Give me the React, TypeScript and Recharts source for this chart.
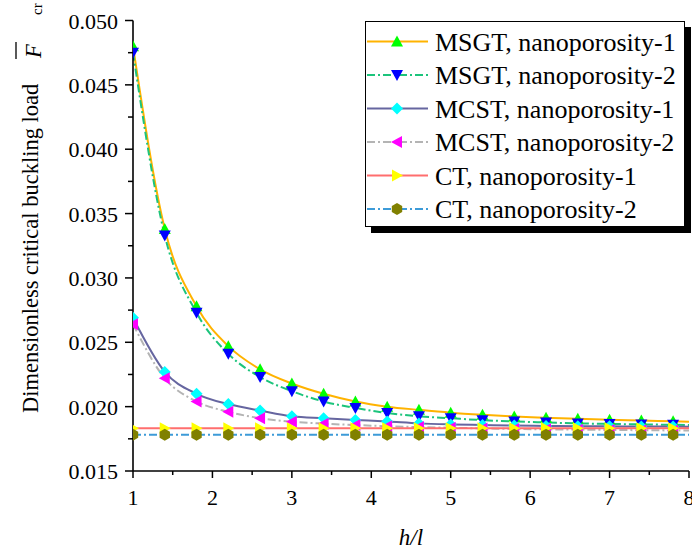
import React from "react";
import { LineChart, Line, XAxis, YAxis, Legend } from "recharts";

const FONT = "'Liberation Serif', 'Times New Roman', serif";

// h/l values where the markers sit (last point only carries the line to the edge)
const hl = [1, 1.4, 1.8, 2.2, 2.6, 3, 3.4, 3.8, 4.2, 4.6, 5, 5.4, 5.8, 6.2, 6.6, 7, 7.4, 7.8, 8];

const msgt1 = [0.048, 0.0338, 0.0278, 0.0247, 0.0229, 0.0218, 0.021, 0.0204, 0.02, 0.01975, 0.01953, 0.01937, 0.01924, 0.01914, 0.01905, 0.01898, 0.01892, 0.01886, 0.01883];
const msgt2 = [0.0475, 0.0333, 0.0273, 0.0241, 0.0223, 0.0212, 0.0204, 0.0199, 0.0195, 0.01925, 0.0191, 0.01895, 0.01885, 0.01877, 0.0187, 0.01866, 0.01862, 0.01859, 0.01857];
const mcst1 = [0.0269, 0.0227, 0.021, 0.0202, 0.0197, 0.01925, 0.0191, 0.01897, 0.01885, 0.0187, 0.01862, 0.01857, 0.01853, 0.0185, 0.01848, 0.01847, 0.01846, 0.01845, 0.01844];
const mcst2 = [0.0264, 0.0222, 0.0204, 0.0196, 0.0191, 0.01883, 0.01868, 0.01857, 0.01848, 0.01841, 0.01836, 0.01831, 0.01827, 0.01824, 0.01821, 0.01819, 0.01817, 0.01815, 0.01814];
const ct1 = [0.01832, 0.01832, 0.01832, 0.01832, 0.01832, 0.01832, 0.01832, 0.01832, 0.01832, 0.01832, 0.01832, 0.01832, 0.01832, 0.01832, 0.01832, 0.01832, 0.01832, 0.01832, 0.01832];
const ct2 = [0.01782, 0.01782, 0.01782, 0.01782, 0.01782, 0.01782, 0.01782, 0.01782, 0.01782, 0.01782, 0.01782, 0.01782, 0.01782, 0.01782, 0.01782, 0.01782, 0.01782, 0.01782, 0.01782];

const xTicks = [1, 1.5, 2, 2.5, 3, 3.5, 4, 4.5, 5, 5.5, 6, 6.5, 7, 7.5, 8];
const yTicks = [0.015, 0.0175, 0.02, 0.0225, 0.025, 0.0275, 0.03, 0.0325, 0.035, 0.0375, 0.04, 0.0425, 0.045, 0.0475, 0.05];
const topTicks = [1, 1.7, 2.4, 3.1, 3.8, 4.5, 5.2, 5.9, 6.6, 7.3, 8];
const rightTicks = [0.015, 0.022, 0.029, 0.036, 0.043, 0.05];

const SERIES = [
  { key: "msgt1", name: "MSGT, nanoporosity-1", values: msgt1, stroke: "#ffb300", dash: undefined, shape: "up", fill: "#00ff00" },
  { key: "msgt2", name: "MSGT, nanoporosity-2", values: msgt2, stroke: "#1cc47c", dash: "8 3 2 3", shape: "down", fill: "#0000ff" },
  { key: "mcst1", name: "MCST, nanoporosity-1", values: mcst1, stroke: "#6666a0", dash: undefined, shape: "diamond", fill: "#00ffff" },
  { key: "mcst2", name: "MCST, nanoporosity-2", values: mcst2, stroke: "#b4b4b4", dash: "8 3 2 3", shape: "left", fill: "#ff00ff" },
  { key: "ct1", name: "CT, nanoporosity-1", values: ct1, stroke: "#ff6e6e", dash: undefined, shape: "right", fill: "#ffff00" },
  { key: "ct2", name: "CT, nanoporosity-2", values: ct2, stroke: "#3d9bd8", dash: "8 3 2 3", shape: "hex", fill: "#808000" },
];

const chartData = hl.map((x, i) => {
  const row: Record<string, number> = { x };
  for (const s of SERIES) row[s.key] = s.values[i];
  return row;
});

function Marker({ shape, cx, cy, fill }: { shape: string; cx: number; cy: number; fill: string }) {
  let pts = "";
  if (shape === "up") pts = `${cx},${cy - 6} ${cx + 6},${cy + 5} ${cx - 6},${cy + 5}`;
  else if (shape === "down") pts = `${cx - 6},${cy - 5} ${cx + 6},${cy - 5} ${cx},${cy + 6}`;
  else if (shape === "diamond") pts = `${cx},${cy - 6} ${cx + 6},${cy} ${cx},${cy + 6} ${cx - 6},${cy}`;
  else if (shape === "left") pts = `${cx - 6},${cy} ${cx + 5},${cy - 6} ${cx + 5},${cy + 6}`;
  else if (shape === "right") pts = `${cx + 6},${cy} ${cx - 5},${cy - 6} ${cx - 5},${cy + 6}`;
  else {
    const r = 6;
    pts = [-90, -30, 30, 90, 150, 210]
      .map((a) => `${cx + r * Math.cos((a * Math.PI) / 180)},${cy + r * Math.sin((a * Math.PI) / 180)}`)
      .join(" ");
  }
  return <polygon points={pts} fill={fill} />;
}

const isMult = (v: number, step: number) => Math.abs(v / step - Math.round(v / step)) < 1e-6;
const serif = { fontFamily: FONT };

function LeftTick(p: any) {
  const { x, y, payload } = p;
  const major = isMult(payload.value, 0.005);
  return (
    <g>
      <line x1={x} x2={x - (major ? 8 : 5)} y1={y} y2={y} stroke="#000" strokeWidth={1.5} />
      {major && (
        <text x={x - 15} y={y + 8} textAnchor="end" fontSize={22} fill="#000" style={serif}>
          {payload.value.toFixed(3)}
        </text>
      )}
    </g>
  );
}

function BottomTick(p: any) {
  const { x, y, payload } = p;
  const major = isMult(payload.value, 1);
  return (
    <g>
      <line x1={x} x2={x} y1={y} y2={y + (major ? 7 : 4)} stroke="#000" strokeWidth={1.5} />
      {major && (
        <text x={x} y={y + 34} textAnchor="middle" fontSize={22} fill="#000" style={serif}>
          {payload.value}
        </text>
      )}
    </g>
  );
}

function TopTick(p: any) {
  const { x, y } = p;
  return <line x1={x} x2={x} y1={y} y2={y + 4} stroke="#000" strokeWidth={1.5} />;
}

function RightTick(p: any) {
  const { x, y } = p;
  return <line x1={x} x2={x - 4} y1={y} y2={y} stroke="#000" strokeWidth={1.5} />;
}

function renderYLabel(props: any) {
  const vb = props.viewBox;
  const tx = vb.x + 38;
  const ty = vb.y + vb.height - 58;
  return (
    <g transform={`translate(${tx},${ty}) rotate(-90)`} fill="#000" style={serif}>
      <text x={0} y={0} fontSize={22.5} style={serif}>Dimensionless critical buckling load</text>
      <text x={355} y={3} fontSize={22.5} fontStyle="italic" style={serif}>F</text>
      <line x1={354} x2={371} y1={-22} y2={-22} stroke="#000" strokeWidth={1.3} />
      <text x={398} y={4} fontSize={15} style={serif}>cr</text>
    </g>
  );
}

function renderXLabel(props: any) {
  const vb = props.viewBox;
  return (
    <text x={vb.x + vb.width / 2} y={vb.y + 74} textAnchor="middle" fontSize={23} fontStyle="italic" fill="#000" style={serif}>
      h/l
    </text>
  );
}

function renderLegend() {
  return (
    <div style={{ width: 320, height: 206, boxSizing: "border-box", border: "1.5px solid #000", background: "#fff", boxShadow: "6px 6px 0 #000" }}>
      <svg width={317} height={203} style={{ display: "block" }}>
        {SERIES.map((s, i) => {
          const cy = 19.5 + i * 33.5;
          return (
            <g key={s.key}>
              <line x1={1} x2={62} y1={cy} y2={cy} stroke={s.stroke} strokeWidth={2} strokeDasharray={s.dash} />
              <Marker shape={s.shape} cx={31} cy={cy} fill={s.fill} />
              <text x={69} y={cy + 9} fontSize={26} fill="#000" style={serif}>
                {s.name}
              </text>
            </g>
          );
        })}
      </svg>
    </div>
  );
}

export default function App() {
  return (
    <div style={{ position: "absolute", left: 0, top: 0, width: 692, height: 550, background: "#fff" }}>
      <LineChart width={692} height={550} data={chartData} margin={{ top: 20.5, right: 3, bottom: 0, left: 0 }}>
        <XAxis
          dataKey="x"
          type="number"
          domain={[1, 8]}
          ticks={xTicks}
          interval={0}
          allowDataOverflow
          height={79}
          tickSize={0}
          tickMargin={0}
          tickLine={false}
          axisLine={{ stroke: "#000", strokeWidth: 1.6 }}
          tick={BottomTick}
          label={renderXLabel}
        />
        <XAxis
          xAxisId="t"
          orientation="top"
          type="number"
          domain={[1, 8]}
          ticks={topTicks}
          interval={0}
          allowDataOverflow
          height={0}
          tickSize={0}
          tickMargin={0}
          tickLine={false}
          axisLine={{ stroke: "#000", strokeWidth: 1.6 }}
          tick={TopTick}
        />
        <YAxis
          type="number"
          domain={[0.015, 0.05]}
          ticks={yTicks}
          interval={0}
          allowDataOverflow
          width={133}
          tickSize={0}
          tickMargin={0}
          tickLine={false}
          axisLine={{ stroke: "#000", strokeWidth: 1.6 }}
          tick={LeftTick}
          label={renderYLabel}
        />
        <YAxis
          yAxisId="r"
          orientation="right"
          type="number"
          domain={[0.015, 0.05]}
          ticks={rightTicks}
          interval={0}
          allowDataOverflow
          width={0}
          tickSize={0}
          tickMargin={0}
          tickLine={false}
          axisLine={{ stroke: "#000", strokeWidth: 1.6 }}
          tick={RightTick}
        />
        {SERIES.map((s) => (
          <Line
            key={s.key}
            dataKey={s.key}
            name={s.name}
            type="monotone"
            stroke={s.stroke}
            strokeWidth={2}
            strokeDasharray={s.dash}
            activeDot={false}
            isAnimationActive={false}
            dot={(p: any) =>
              p.payload.x > 7.95 ? (
                <g key={p.index} />
              ) : (
                <Marker key={p.index} shape={s.shape} cx={p.cx} cy={p.cy} fill={s.fill} />
              )
            }
          />
        ))}
        <Legend
          layout="vertical"
          align="center"
          verticalAlign="middle"
          wrapperStyle={{ left: 365, top: 21, width: 320, height: 206 }}
          content={renderLegend}
        />
      </LineChart>
    </div>
  );
}
